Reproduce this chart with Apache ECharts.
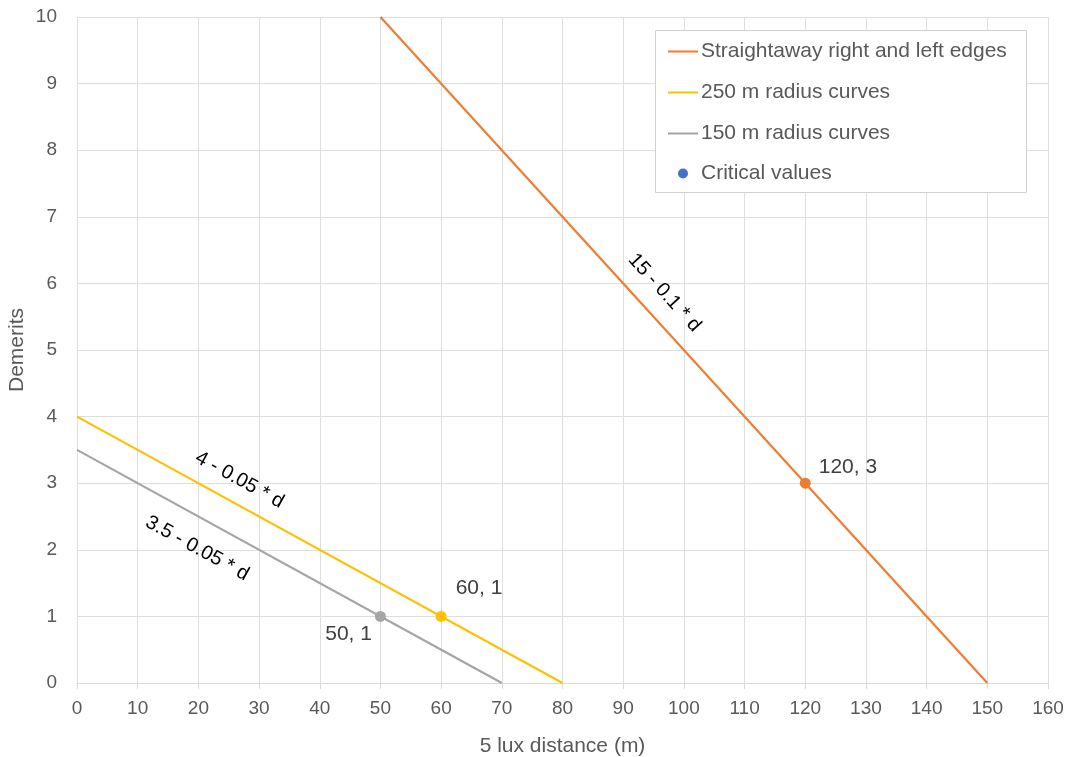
<!DOCTYPE html>
<html>
<head>
<meta charset="utf-8">
<script src="https://cdn.jsdelivr.net/npm/echarts@6/dist/echarts.min.js"></script>
<style>html,body{margin:0;padding:0;background:#fff}#c{width:1071px;height:757px}</style>
</head>
<body>
<div id="c"></div>
<script>
// Series data [distance, demerits]
const straightaway = [[50, 10], [150, 0]];
const curve250 = [[0, 4], [80, 0]];
const curve150 = [[0, 3.5], [70, 0]];
const criticalPoints = [[120, 3], [60, 1], [50, 1]];
const criticalLabels = ['120, 3', '60, 1', '50, 1'];
const seriesNames = ['Straightaway right and left edges', '250 m radius curves', '150 m radius curves', 'Critical values'];
const formulaTexts = ['15 - 0.1 * d', '4 - 0.05 * d', '3.5 - 0.05 * d'];
const formulaAnchors = [[96.8, 5.86], [26.8, 3.05], [19.8, 2.02]];
const xTicks = {min: 0, max: 160, interval: 10};
const yTicks = {min: 0, max: 10, interval: 1};

const colors = ['#ED7D31', '#FFC000', '#A5A5A5', '#4472C4'];
const font = 'Liberation Sans, Arial, sans-serif';

const chart = echarts.init(document.getElementById('c'));

function lineSeries(name, data, color, formula, anchor, rot) {
  return {
    name: name, type: 'line', data: data, symbol: 'none', showSymbol: false,
    lineStyle: {color: color, width: 2.2}, itemStyle: {color: color},
    z: 3, animation: false,
    markPoint: {
      symbol: 'circle', symbolSize: 1, itemStyle: {color: 'rgba(0,0,0,0)'},
      animation: false,
      data: [{coord: anchor, label: {show: true, formatter: formula, rotate: rot, position: 'inside',
        color: '#000', fontSize: 20, fontFamily: font}}]
    }
  };
}

const pointColors = [colors[0], colors[1], colors[2]];
const pointLabelCfg = [
  {position: 'right', offset: [3, -16]},
  {position: 'right', offset: [4, -28]},
  {position: 'left', offset: [2, 18]}
];

const legendText = {color: '#595959', fontSize: 21, fontFamily: font, padding: [0, 0, 0, -2]};

const option = {
  animation: false,
  grid: {left: 77, right: 23, top: 17, bottom: 74, containLabel: false, outerBoundsMode: 'none'},
  graphic: [{
    type: 'rect', left: 655, top: 30, shape: {width: 371, height: 162},
    style: {fill: '#fff', stroke: '#d0d0d0', lineWidth: 1}, z: 10
  }],
  legend: [{
    orient: 'vertical', left: 668, top: 41, padding: 0, z: 20,
    itemWidth: 30, itemHeight: 2, itemGap: 20, icon: 'rect',
    textStyle: legendText,
    data: [seriesNames[0], seriesNames[1], seriesNames[2]]
  }, {
    orient: 'vertical', left: 678, top: 163, padding: 0, z: 20,
    itemWidth: 30, itemHeight: 10, icon: 'circle',
    textStyle: legendText,
    data: [{name: seriesNames[3], itemStyle: {color: colors[3]}}]
  }],
  xAxis: {
    type: 'value', min: xTicks.min, max: xTicks.max, interval: xTicks.interval,
    name: '5 lux distance (m)', nameLocation: 'middle', nameGap: 53, nameMoveOverlap: false,
    nameTextStyle: {color: '#595959', fontSize: 21, fontFamily: font},
    axisLine: {show: true, lineStyle: {color: '#d9d9d9', width: 1}},
    axisTick: {show: true, length: 6, lineStyle: {color: '#d9d9d9'}},
    axisLabel: {color: '#595959', fontSize: 19, fontFamily: font, margin: 16},
    splitLine: {show: true, lineStyle: {color: '#dedede', width: 1}}
  },
  yAxis: {
    type: 'value', min: yTicks.min, max: yTicks.max, interval: yTicks.interval,
    name: 'Demerits', nameLocation: 'middle', nameGap: 49, nameRotate: 90, nameMoveOverlap: false,
    nameTextStyle: {color: '#595959', fontSize: 21, fontFamily: font},
    axisLine: {show: false}, axisTick: {show: false},
    axisLabel: {color: '#595959', fontSize: 19, fontFamily: font, margin: 20},
    splitLine: {show: true, lineStyle: {color: '#dedede', width: 1}}
  },
  series: [
    lineSeries(seriesNames[0], straightaway, colors[0], formulaTexts[0], formulaAnchors[0], -47.7),
    lineSeries(seriesNames[1], curve250, colors[1], formulaTexts[1], formulaAnchors[1], -28.8),
    lineSeries(seriesNames[2], curve150, colors[2], formulaTexts[2], formulaAnchors[2], -28.8),
    {
      name: seriesNames[3], type: 'scatter', symbol: 'circle', symbolSize: 11, z: 5,
      itemStyle: {color: colors[3], opacity: 1},
      data: criticalPoints.map((p, i) => ({
        value: p,
        itemStyle: {color: pointColors[i], opacity: 1},
        label: Object.assign({show: true, formatter: criticalLabels[i], color: '#404040',
          fontSize: 21, fontFamily: font, distance: 5}, pointLabelCfg[i])
      }))
    }
  ]
};
chart.setOption(option);
</script>
</body>
</html>
